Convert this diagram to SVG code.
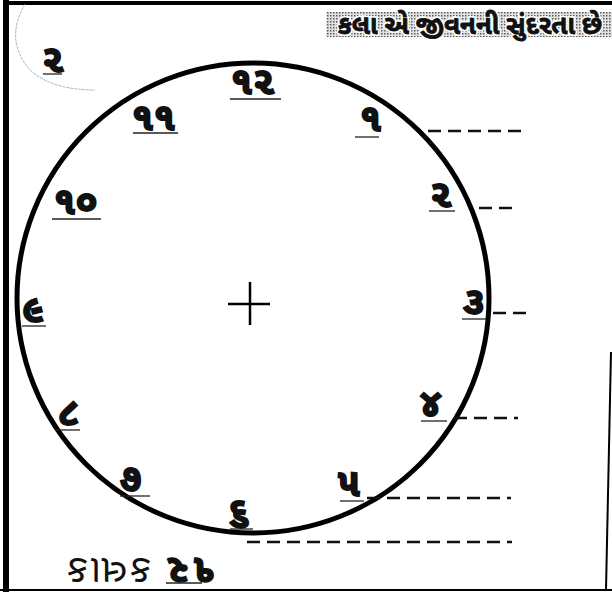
<svg xmlns="http://www.w3.org/2000/svg" width="612" height="596" viewBox="0 0 612 596">
<defs>
<pattern id="dots" width="3" height="3" patternUnits="userSpaceOnUse">
<rect width="3" height="3" fill="#e2e2e2"/>
<rect width="1.5" height="1.5" fill="#5a5a5a"/>
</pattern>
</defs>
<style>
.num{font-family:"Noto Sans Gujarati","Noto Sans","DejaVu Sans",sans-serif;font-weight:bold;font-size:38px;fill:#111;stroke:#111;stroke-width:1.8}
.ul{stroke:#222;stroke-width:1.3}
.dash{stroke:#111;stroke-width:2.4;stroke-dasharray:13 7;fill:none}
.border{stroke:#000;fill:none}
.ban{font-family:"Noto Sans Gujarati","Noto Sans",sans-serif;font-weight:bold;font-size:26px}
</style>
<rect width="612" height="596" fill="#fff"/>
<g id="page-border">
<line class="border" x1="6" y1="0" x2="6" y2="592" stroke-width="6"/>
<line class="border" x1="8" y1="3" x2="612" y2="3" stroke-width="4"/>
<line class="border" x1="0" y1="590" x2="612" y2="590" stroke-width="2"/>
<line class="border" x1="611" y1="352" x2="606" y2="590" stroke-width="2"/>
<path d="M25 4 Q4 40 30 70 Q52 90 95 90" fill="none" stroke="#999" stroke-width="0.8" stroke-dasharray="3 1"/>
</g>
<g id="banner">
<rect x="326" y="12" width="286" height="25" fill="url(#dots)"/>
<text class="ban" x="470" y="34" text-anchor="middle" fill="#fff" stroke="#fff" stroke-width="4">કલા એ જીવનની સુંદરતા છે</text>
<text class="ban" x="470" y="34" text-anchor="middle" fill="#111" stroke="#111" stroke-width="0.8">કલા એ જીવનની સુંદરતા છે</text>
</g>
<g id="corner-number">
<text class="num" x="42" y="72" font-size="34">૨</text>
<line class="ul" x1="43" y1="74" x2="62" y2="74"/>
</g>
<g id="clock-face">
<ellipse cx="253" cy="298" rx="236" ry="235" fill="none" stroke="#000" stroke-width="5"/>
<line x1="228" y1="304" x2="270" y2="304" stroke="#000" stroke-width="2.5"/>
<line x1="250" y1="282" x2="250" y2="325" stroke="#000" stroke-width="2.5"/>
</g>
<g id="n12"><text class="num" x="231" y="94">૧૨</text><line class="ul" x1="230" y1="99" x2="281" y2="99"/></g>
<g id="n1"><text class="num" x="360" y="131">૧</text><line class="ul" x1="355" y1="137" x2="379" y2="137"/></g>
<g id="n2"><text class="num" x="430" y="207">૨</text><line class="ul" x1="429" y1="211" x2="455" y2="211"/></g>
<g id="n3"><text class="num" x="463" y="314">૩</text><line class="ul" x1="462" y1="319" x2="486" y2="319"/></g>
<g id="n4"><text class="num" x="420" y="416">૪</text><line class="ul" x1="421" y1="421" x2="447" y2="421"/></g>
<g id="n5"><text class="num" x="338" y="496">૫</text><line class="ul" x1="340" y1="501" x2="364" y2="501"/></g>
<g id="n6"><text class="num" x="228" y="524">૬</text><line class="ul" x1="230" y1="529" x2="253" y2="529"/></g>
<g id="n7"><text class="num" x="120" y="491">૭</text><line class="ul" x1="120" y1="496" x2="150" y2="496"/></g>
<g id="n8"><text class="num" x="58" y="425">૮</text><line class="ul" x1="55" y1="430" x2="80" y2="430"/></g>
<g id="n9"><text class="num" x="22" y="322">૯</text><line class="ul" x1="22" y1="326" x2="46" y2="326"/></g>
<g id="n10"><text class="num" x="54" y="214">૧૦</text><line class="ul" x1="52" y1="219" x2="101" y2="219"/></g>
<g id="n11"><text class="num" x="132" y="130">૧૧</text><line class="ul" x1="133" y1="133" x2="178" y2="133"/></g>
<g id="connectors">
<line class="dash" x1="428" y1="131" x2="523" y2="131"/>
<line class="dash" x1="479" y1="208" x2="519" y2="208"/>
<line class="dash" x1="493" y1="313" x2="526" y2="313"/>
<line class="dash" x1="454" y1="418" x2="518" y2="418"/>
<line class="dash" x1="367" y1="498" x2="511" y2="498"/>
<line class="dash" x1="247" y1="542" x2="512" y2="542"/>
</g>
<g id="footer">
<text transform="rotate(180 140 569)" x="140" y="580" text-anchor="middle" font-family="Noto Sans Gujarati,Noto Sans,sans-serif" font-size="40" letter-spacing="3" fill="#111"><tspan font-weight="bold" stroke="#111" stroke-width="1.4">૧૨</tspan> કલાક</text>
<line class="ul" x1="166" y1="583" x2="202" y2="583"/>
</g>
</svg>
